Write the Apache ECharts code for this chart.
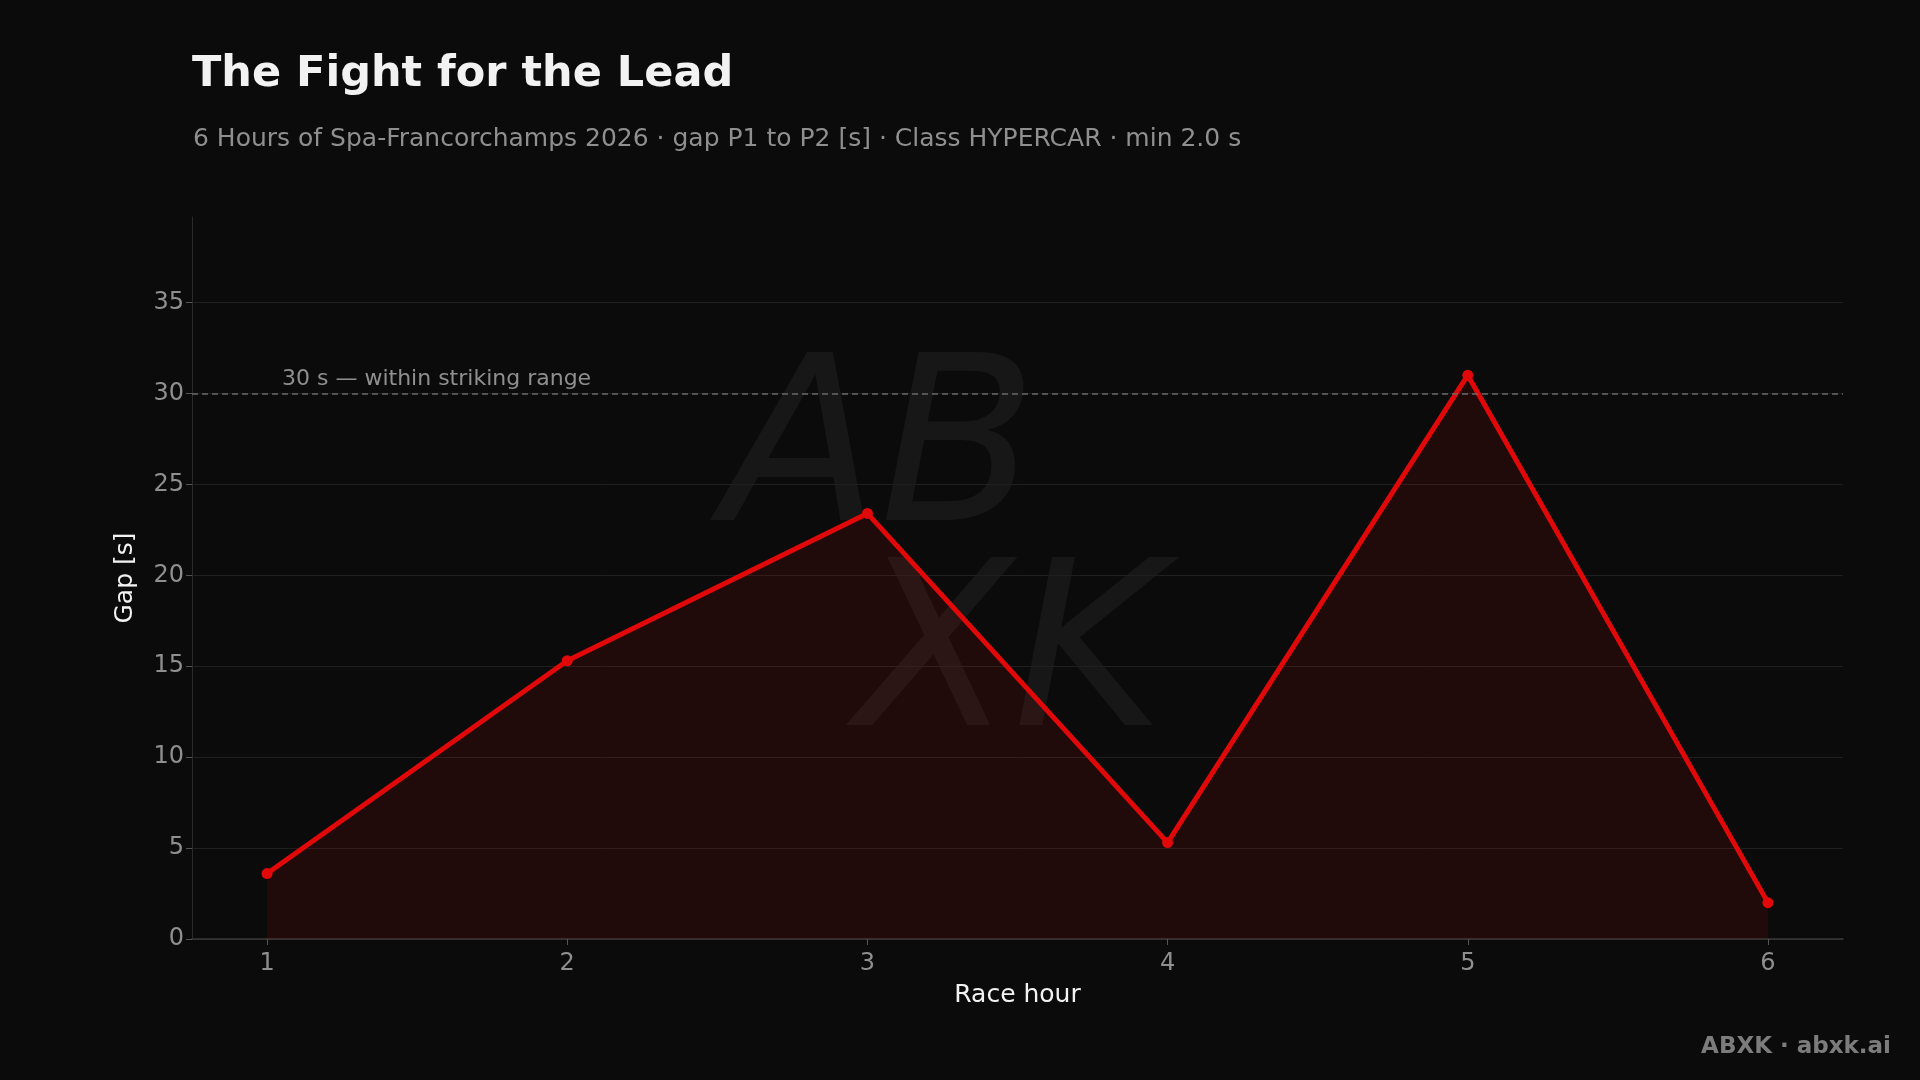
<!DOCTYPE html>
<html><head><meta charset="utf-8">
<script src="https://cdn.jsdelivr.net/npm/echarts@6/dist/echarts.min.js"></script>
<style>html,body{margin:0;padding:0;background:#0b0b0b;}#c{width:1920px;height:1080px;}</style>
</head><body><div id="c"></div>
<script>
const hours = [1, 2, 3, 4, 5, 6];
const gaps = [3.6, 15.3, 23.4, 5.3, 31.0, 2.0];
const thresholdValue = 30;
const thresholdLabel = '30 s — within striking range';
const titleText = 'The Fight for the Lead';
const subtitleText = '6 Hours of Spa-Francorchamps 2026 · gap P1 to P2 [s] · Class HYPERCAR · min 2.0 s';

const font = 'DejaVu Sans';
const chart = echarts.init(document.getElementById('c'));
chart.setOption({
  backgroundColor: '#0b0b0b',
  animation: false,
  textStyle: { fontFamily: font },
  title: [
    { text: titleText, left: 187, top: 48, textStyle: { color: '#f2f2f2', fontSize: 43, fontWeight: 'bold', fontFamily: font } },
    { text: subtitleText, left: 188, top: 122, textStyle: { color: '#8f8f8f', fontSize: 25, fontWeight: 'normal', fontFamily: font } }
  ],
  graphic: [
    { type: 'text', z: 0, silent: true, x: 880, y: 460,
      style: { text: 'AB', fill: 'rgba(255,255,255,0.05)', font: 'italic 230px "DejaVu Sans"', align: 'center', verticalAlign: 'middle' } },
    { type: 'text', z: 0, silent: true, x: 1010, y: 665,
      style: { text: 'XK', fill: 'rgba(255,255,255,0.05)', font: 'italic 230px "DejaVu Sans"', align: 'center', verticalAlign: 'middle' } },
    { type: 'text', right: 29, top: 1036, style: { text: 'ABXK · abxk.ai', fill: '#7c7c7c', font: 'bold 23px "DejaVu Sans"' } }
  ],
  grid: { left: 192, right: 77, top: 217, bottom: 141, containLabel: false },
  xAxis: {
    type: 'value', min: 0.75, max: 6.25,
    name: 'Race hour', nameLocation: 'middle', nameGap: 44,
    nameTextStyle: { color: '#f2f2f2', fontSize: 25, fontFamily: font },
    axisLine: { show: true, lineStyle: { color: '#3a3a3a', width: 1.5 } },
    axisTick: { show: true, length: 6, lineStyle: { color: '#555' } },
    axisLabel: { color: '#8f8f8f', fontSize: 24, margin: 13, showMinLabel: false, showMaxLabel: false, fontFamily: font },
    splitLine: { show: false }
  },
  yAxis: {
    type: 'value', min: 0, max: 39.7, interval: 5,
    name: 'Gap [s]', nameLocation: 'middle', nameGap: 54,
    nameTextStyle: { color: '#f2f2f2', fontSize: 25, fontFamily: font },
    axisLine: { show: true, lineStyle: { color: '#2a2a2a', width: 1 } },
    axisTick: { show: true, length: 6, lineStyle: { color: '#555' } },
    axisLabel: { color: '#8f8f8f', fontSize: 24, margin: 8, showMaxLabel: false, fontFamily: font },
    splitLine: { show: true, showMaxLine: false, lineStyle: { color: '#1f1f1f', width: 1 } }
  },
  series: [{
    type: 'line',
    data: hours.map((h, i) => [h, gaps[i]]),
    symbol: 'circle', symbolSize: 11,
    itemStyle: { color: '#e00808' },
    lineStyle: { color: '#e00808', width: 5 },
    areaStyle: { color: 'rgba(240,8,8,0.135)' },
    z: 3,
    markLine: {
      silent: true, symbol: ['none', 'none'],
      lineStyle: { color: '#6a6a6a', type: [6, 4], width: 1.5 },
      label: { show: true, position: 'insideStartTop', formatter: thresholdLabel, color: '#8f8f8f', fontSize: 22, fontFamily: font, distance: [90, 3] },
      data: [{ yAxis: thresholdValue }]
    }
  }]
});
</script></body></html>
